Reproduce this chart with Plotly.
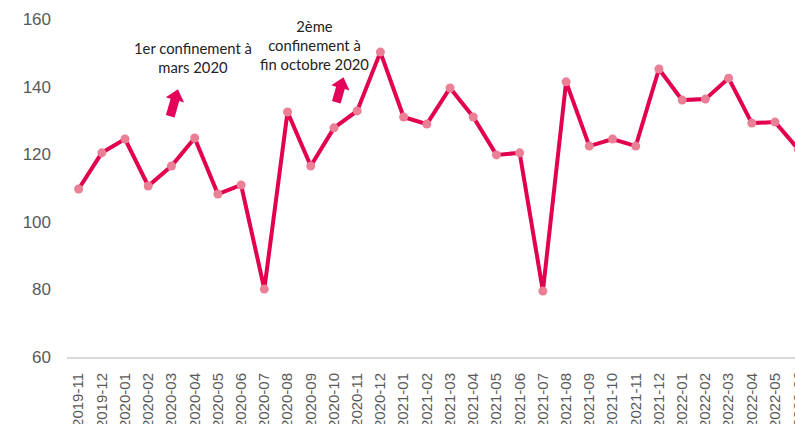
import math
import plotly.graph_objects as go

months = ["2019-11", "2019-12", "2020-01", "2020-02", "2020-03", "2020-04", "2020-05", "2020-06",
          "2020-07", "2020-08", "2020-09", "2020-10", "2020-11", "2020-12", "2021-01", "2021-02",
          "2021-03", "2021-04", "2021-05", "2021-06", "2021-07", "2021-08", "2021-09", "2021-10",
          "2021-11", "2021-12", "2022-01", "2022-02", "2022-03", "2022-04", "2022-05", "2022-06"]
values = [109.7, 120.4, 124.5, 110.6, 116.5, 124.8, 108.2, 110.9,
          80.1, 132.5, 116.5, 127.8, 132.8, 150.2, 131.0, 128.9,
          139.6, 131.0, 119.8, 120.4, 79.5, 141.4, 122.4, 124.5,
          122.4, 145.2, 136.0, 136.3, 142.5, 129.2, 129.5, 121.5]
y_ticks = [60, 80, 100, 120, 140, 160]

LINE = "#E2004F"
MARK = "#EA7F95"
ARROW = "#E5005A"
TICK_FONT = dict(family="Liberation Sans, Arial, sans-serif", size=15, color="#595959")

idx = list(range(len(months)))
X_MAX = 30.86

fig = go.Figure()
fig.add_trace(go.Scatter(
    x=idx, y=values, mode="lines+markers",
    line=dict(color=LINE, width=4),
    marker=dict(color=MARK, size=9),
    showlegend=False, hoverinfo="skip"))

ann_font = dict(family="Lato, Open Sans, sans-serif", size=14.8, color="#222222")
fig.add_annotation(x=4.91, y=148.6, xref="x", yref="y", text="1er confinement à<br>mars 2020",
                   showarrow=False, font=ann_font, align="center")
fig.add_annotation(x=10.15, y=152.2, xref="x", yref="y", text="2ème<br>confinement à<br>fin octobre 2020",
                   showarrow=False, font=ann_font, align="center")

# last category label, partly cut by the right edge (its tick lies just beyond the axis range)
fig.add_annotation(x=(idx[-1] + 0.5) / (X_MAX + 0.5), xref="paper", y=-13 / 338, yref="paper",
                   text=months[-1], textangle=-90, showarrow=False, font=TICK_FONT,
                   xanchor="center", yanchor="top")


def block_arrow(length, angle_deg):
    # local frame: tip at origin, pointing up (pixel units, y up)
    pts = [(0, 0), (9.5, -11), (4.5, -11), (4.5, -length), (-4.5, -length), (-4.5, -11), (-9.5, -11)]
    a = math.radians(angle_deg)
    out = []
    for px, py in pts:
        rx = px * math.cos(a) + py * math.sin(a)
        ry = -px * math.sin(a) + py * math.cos(a)
        out.append((rx, ry))
    return "M" + " L".join(f"{x:.2f},{y:.2f}" for x, y in out) + " Z"


for ax_, ay_, ln in [(4.28, 139.2, 28), (11.41, 142.75, 26)]:
    fig.add_shape(type="path", xref="x", yref="y", xsizemode="pixel", ysizemode="pixel",
                  xanchor=ax_, yanchor=ay_, path=block_arrow(ln, 16),
                  fillcolor=ARROW, line=dict(width=0), layer="above")

fig.update_layout(
    width=795, height=424,
    margin=dict(l=67, r=0, t=19, b=67),
    plot_bgcolor="white", paper_bgcolor="white",
    xaxis=dict(
        range=[-0.5, X_MAX], tickmode="array", tickvals=idx, ticktext=months,
        tickangle=-90, showgrid=False, zeroline=False, automargin=False,
        showline=True, linecolor="#D9D9D9", linewidth=2,
        ticks="", ticklabelstandoff=8, tickfont=TICK_FONT),
    yaxis=dict(
        range=[60, 160], tickmode="array", tickvals=y_ticks, automargin=False,
        showgrid=False, zeroline=False, showline=False, ticks="", ticklabelstandoff=15,
        tickfont=dict(family="Liberation Sans, Arial, sans-serif", size=17, color="#595959")),
)

fig.write_html("out.html", config={"displayModeBar": False},
               post_script="document.body.style.margin='0';document.body.style.overflow='hidden';")
